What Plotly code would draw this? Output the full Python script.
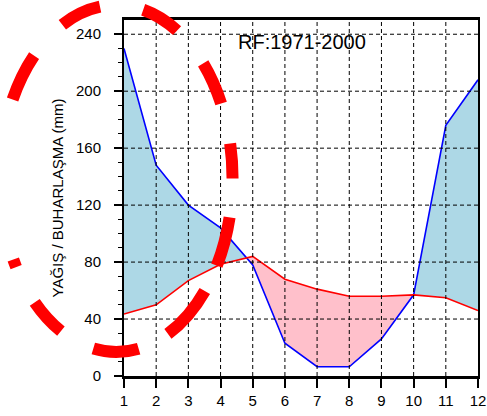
import math
import plotly.graph_objects as go

# ---- data ----
months = [1, 2, 3, 4, 5, 6, 7, 8, 9, 10, 11, 12]
precip = [230, 148, 120, 104, 78, 23, 6.5, 6.5, 26, 57, 176, 208]      # YAĞIŞ (blue)
evap = [43.5, 50, 67, 78.5, 84, 68, 61, 56, 56, 57, 55, 46]            # BUHARLAŞMA (red)
y_ticks = [0, 40, 80, 120, 160, 200, 240]
y_title = "YAĞIŞ / BUHARLAŞMA (mm)"
period_label = "RF:1971-2000"

# ---- crossing points so the fills switch colour exactly where lines meet ----
xs, ps, es = [], [], []
for i in range(len(months)):
    xs.append(months[i]); ps.append(precip[i]); es.append(evap[i])
    if i < len(months) - 1:
        d0 = precip[i] - evap[i]
        d1 = precip[i + 1] - evap[i + 1]
        if d0 * d1 < 0:
            t = d0 / (d0 - d1)
            xs.append(months[i] + t)
            ps.append(precip[i] + t * (precip[i + 1] - precip[i]))
            es.append(evap[i] + t * (evap[i + 1] - evap[i]))
lo = [min(a, b) for a, b in zip(ps, es)]

W, H = 487, 416
L, R, T, B = 124, 1, 20, 40
pw, ph = W - L - R, H - T - B

fig = go.Figure()
nol = dict(width=0)
fig.add_trace(go.Scatter(x=xs, y=lo, mode="lines", line=nol, hoverinfo="skip", showlegend=False))
fig.add_trace(go.Scatter(x=xs, y=ps, mode="lines", line=nol, fill="tonexty",
                         fillcolor="#ADD8E6", hoverinfo="skip", showlegend=False))
fig.add_trace(go.Scatter(x=xs, y=lo, mode="lines", line=nol, hoverinfo="skip", showlegend=False))
fig.add_trace(go.Scatter(x=xs, y=es, mode="lines", line=nol, fill="tonexty",
                         fillcolor="#FFC0CB", hoverinfo="skip", showlegend=False))
fig.add_trace(go.Scatter(x=months, y=precip, mode="lines", line=dict(color="#0000FF", width=1.6),
                         name="Yağış", showlegend=False))
fig.add_trace(go.Scatter(x=months, y=evap, mode="lines", line=dict(color="#FF0000", width=1.6),
                         name="Buharlaşma", showlegend=False))

shapes = []
# dashed grid drawn above the fills
for m in months[1:-1]:
    shapes.append(dict(type="line", xref="x", yref="y", x0=m, x1=m, y0=0, y1=250,
                       line=dict(color="black", width=1, dash="4px,3px"), layer="above"))
for v in y_ticks[1:]:
    shapes.append(dict(type="line", xref="x", yref="y", x0=1, x1=12, y0=v, y1=v,
                       line=dict(color="black", width=1, dash="4px,3px"), layer="above"))

# ---- red dashed ellipse overlay (decoration) ----
ex0, ex1, ey_top, ey_bot = -3, 235, 5, 352
ra, rb = (ex1 - ex0) / 2, (ey_bot - ey_top) / 2


def arclen(deg):
    n = max(1, int(deg * 4))
    s = 0.0
    for k in range(n):
        t0 = math.radians(deg * k / n)
        t1 = math.radians(deg * (k + 1) / n)
        s += math.hypot(ra * (math.cos(t1) - math.cos(t0)), rb * (math.sin(t1) - math.sin(t0)))
    return s


# dash segments as angle ranges, clockwise on screen from the rightmost point
segs = [(13, 30), (40, 63), (78, 100), (117, 133), (148, 151), (206, 224),
        (241, 260), (281, 299), (316, 332), (346, 360)]
arr = [0]
prev = 0.0
for a0, a1 in segs:
    s0, s1 = arclen(a0), arclen(a1)
    arr += [s0 - prev, s1 - s0]
    prev = s1
arr.append(0)
dash = ",".join(f"{max(0, round(v))}px" for v in arr)

shapes.append(dict(type="circle", xref="paper", yref="paper",
                   x0=(ex0 - L) / pw, x1=(ex1 - L) / pw,
                   y0=(H - B - ey_bot) / ph, y1=(H - B - ey_top) / ph,
                   line=dict(color="#FF0000", width=12, dash=dash), layer="above"))

fig.update_layout(
    width=W, height=H,
    margin=dict(l=L, r=R, t=T, b=B),
    paper_bgcolor="white", plot_bgcolor="white",
    font=dict(family="Liberation Sans, Arial, sans-serif", color="black", size=15),
    shapes=shapes,
    annotations=[dict(text=period_label, xref="paper", yref="paper",
                      x=(239 - L) / pw, y=(H - B - 42) / ph, xanchor="left", yanchor="middle",
                      showarrow=False, font=dict(size=20, color="black"))],
)
fig.update_xaxes(range=[1, 12], tickvals=months, ticktext=[str(m) for m in months],
                 showgrid=False, zeroline=False, showline=True, linecolor="black", linewidth=2.5,
                 mirror=True, ticks="outside", ticklen=9, tickwidth=1.5, tickcolor="black",
                 tickfont=dict(size=15), ticklabeloverflow="allow")
fig.update_yaxes(range=[0, 250], tickvals=y_ticks, showgrid=False, zeroline=False,
                 showline=True, linecolor="black", linewidth=2, mirror=True,
                 ticks="outside", ticklen=8, tickwidth=1.5, tickcolor="black",
                 minor=dict(tickvals=[v for v in range(10, 250, 10) if v not in y_ticks],
                            ticks="outside", ticklen=4, tickwidth=1, tickcolor="black"),
                 tickfont=dict(size=15), ticklabelstandoff=10,
                 title=dict(text=y_title, font=dict(size=15), standoff=9))

fig.write_html("out.html")
